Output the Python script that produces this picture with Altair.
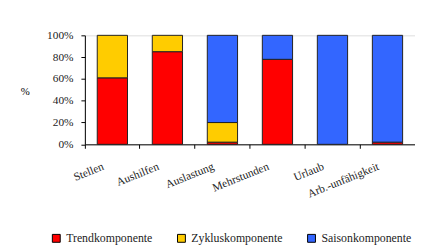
import altair as alt
import pandas as pd

categories = ["Stellen", "Aushilfen", "Auslastung", "Mehrstunden", "Urlaub", "Arb.-unfähigkeit"]
components = ["Trendkomponente", "Zykluskomponente", "Saisonkomponente"]
trend = [61, 85, 2, 78, 0, 2]
zyklus = [39, 15, 18, 0, 0, 0]
saison = [0, 0, 80, 22, 100, 98]
colors = ["#FF0000", "#FFCC00", "#3366FF"]
y_ticks = [0, 20, 40, 60, 80, 100]

rows = []
for i, c in enumerate(categories):
    for k, (name, vals) in enumerate(zip(components, [trend, zyklus, saison])):
        if vals[i] > 0:
            rows.append({"Kategorie": c, "Komponente": name, "Wert": vals[i], "idx": k})
df = pd.DataFrame(rows)

FONT = "Liberation Serif"

chart = alt.Chart(df).mark_bar(
    width=alt.RelativeBandSize(0.55), stroke="#222222", strokeWidth=1
).encode(
    x=alt.X("Kategorie:N", sort=categories,
            scale=alt.Scale(paddingInner=0, paddingOuter=0),
            axis=alt.Axis(title=None, labelAngle=338, labelAlign="right", labelBaseline="middle",
                          labelOffset=-9, labelPadding=18, tickSize=4, bandPosition=0,
                          labelFont=FONT, labelFontSize=11.5, labelColor="#222222",
                          domainColor="black", tickColor="black", grid=False)),
    y=alt.Y("Wert:Q", stack="zero",
            scale=alt.Scale(domain=[0, 100], nice=False),
            axis=alt.Axis(title="%", titleAngle=0, titleX=-61, titleY=57, titleAlign="center",
                          titleBaseline="middle", titleFont=FONT, titleFontSize=11, titleFontWeight="normal",
                          values=y_ticks, labelExpr="datum.value + '%'",
                          labelFont=FONT, labelFontSize=11.5, labelColor="#222222", labelPadding=8,
                          tickSize=4, domainColor="black", tickColor="black", grid=False)),
    color=alt.Color("Komponente:N",
                    scale=alt.Scale(domain=components, range=colors),
                    legend=alt.Legend(title=None, orient="none", direction="horizontal",
                                      legendX=-35, legendY=200, padding=0,
                                      symbolType="square", symbolSize=64,
                                      symbolStrokeColor="black", symbolStrokeWidth=1,
                                      labelFont=FONT, labelFontSize=12, labelColor="#222222",
                                      labelOffset=4, columnPadding=23)),
    order=alt.Order("idx:Q", sort="ascending"),
).properties(
    width=335, height=110.6,
    autosize=alt.AutoSizeParams(type="none"),
    padding={"left": 78, "top": 26, "right": 0, "bottom": 100},
).configure_view(stroke=None).configure(background="white")

chart.save("out.html", embed_options={"renderer": "svg", "actions": False})
